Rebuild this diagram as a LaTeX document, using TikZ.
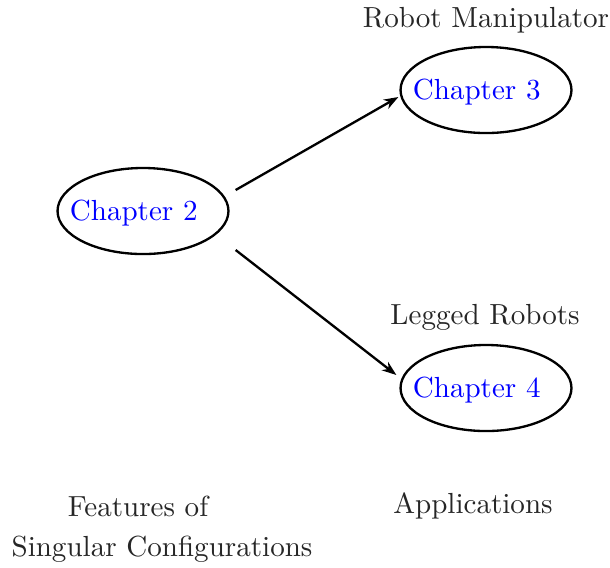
\documentclass[tikz,border=0pt]{standalone}
\usepackage{tikz}
\usetikzlibrary{positioning, arrows.meta, shapes.geometric}

\begin{document}
\begin{tikzpicture}[x = 0.344pt, y = -0.344pt,
    chap/.style = { draw, thick, shape = ellipse, inner sep = 0pt,
                    minimum width = 58.8pt, minimum height = 29.6pt },
    note/.style = { text = black!85 },
    link/.style = { thick, -{Stealth[length = 5pt, width = 3.6pt, inset = 1.6pt]} }]
  \useasboundingbox (0,0) rectangle (610,567);

  \node [chap, label = {[text = blue, xshift = -3.2pt, yshift = -0.6pt]center:Chapter 2}] (ch2) at (143,211) {};
  \node [chap, label = {[text = blue, xshift = -3.2pt, yshift = -0.6pt]center:Chapter 3}] (ch3) at (486,90) {};
  \node [chap, label = {[text = blue, xshift = -3.2pt, yshift = -0.6pt]center:Chapter 4}] (ch4) at (486,388) {};

  \node [note] (manip) at (486,20) { Robot Manipulator };
  \node [note] (legged) at (485,317) { Legged Robots };
  \node [note] (feat) at (138,506) { Features of };
  \node [note] (sing) at (162,549) { Singular Configurations };
  \node [note] (appl) at (473,506) { Applications };

  % arrow ends
  \coordinate (s3) at ([shift = {(6,-21)}]ch2.east);
  \coordinate (e3) at ([shift = {(-1,7)}]ch3.west);
  \coordinate (s4) at ([shift = {(6,39)}]ch2.east);
  \coordinate (e4) at ([shift = {(-3,-13)}]ch4.west);

  \draw [link] (s3) -- (e3);
  \draw [link] (s4) -- (e4);
\end{tikzpicture}
\end{document}
